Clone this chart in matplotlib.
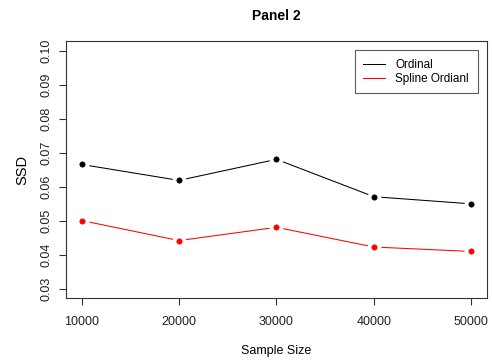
import matplotlib
matplotlib.use("Agg")
import matplotlib.pyplot as plt

# data
sample_size = [10000, 20000, 30000, 40000, 50000]
ordinal = [0.0665, 0.0618, 0.0680, 0.0570, 0.0549]
spline_ordinal = [0.0500, 0.0441, 0.0480, 0.0422, 0.0409]
y_ticks = [0.03, 0.04, 0.05, 0.06, 0.07, 0.08, 0.09, 0.10]
x_ticks = [10000, 20000, 30000, 40000, 50000]

plt.rcParams['font.family'] = ['Liberation Sans', 'DejaVu Sans']

fig = plt.figure(figsize=(4.92, 3.63), dpi=100)
ax = fig.add_axes([0.1341, 0.179, 0.8557, 0.708])

# R type="b": lines with a gap around each point
ax.plot(sample_size, ordinal, color='black', lw=0.75, label='Ordinal', zorder=2)
ax.plot(sample_size, spline_ordinal, color='red', lw=0.75, label='Spline Ordianl', zorder=2)
for ys in (ordinal, spline_ordinal):
    ax.plot(sample_size, ys, ls='none', marker='o', ms=10, mfc='white', mec='none', zorder=3)
ax.plot(sample_size, ordinal, ls='none', marker='o', ms=3.8, mec='black', mfc='black', mew=0.5, zorder=4)
ax.plot(sample_size, spline_ordinal, ls='none', marker='o', ms=3.8, mec='red', mfc='red', mew=0.5, zorder=4)

ax.set_xlim(8400, 51600)
ax.set_ylim(0.0272, 0.1028)
ax.set_xticks(x_ticks)
ax.set_xticklabels([str(v) for v in x_ticks])
ax.set_yticks(y_ticks)
ax.set_yticklabels(['%.2f' % v for v in y_ticks], rotation=90, va='center')

ax.tick_params(direction='out', length=5, width=0.8, colors='#333333', labelsize=9, labelcolor='#222222')
ax.tick_params(axis='x', pad=8)
ax.tick_params(axis='y', pad=5)
for s in ax.spines.values():
    s.set_color('#333333')
    s.set_linewidth(0.8)

ax.set_xlabel('Sample Size', fontsize=9, labelpad=12)
ax.set_ylabel('SSD', fontsize=10.5, labelpad=8)
ax.set_title('Panel 2', fontsize=10, fontweight='bold', pad=15)

leg = ax.legend(loc='upper right', bbox_to_anchor=(0.978, 0.965), fontsize=8.5,
                handlelength=1.8, fancybox=False, borderpad=0.75,
                labelspacing=0.15, handletextpad=0.9, borderaxespad=0)
leg.get_frame().set_edgecolor('#333333')
leg.get_frame().set_linewidth(0.8)

fig.savefig('out.png', dpi=100)
